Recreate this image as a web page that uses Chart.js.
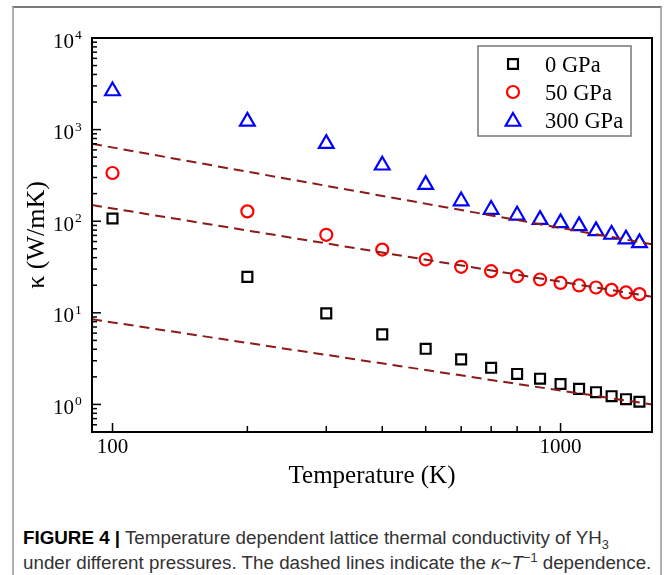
<!DOCTYPE html>
<html>
<head>
<meta charset="utf-8">
<script src="https://cdn.jsdelivr.net/npm/chart.js@4.4.1/dist/chart.umd.min.js"></script>
<style>
  html, body { margin: 0; padding: 0; background: #fff; }
  #page { position: relative; width: 668px; height: 575px; overflow: hidden; }
  #frame { position: absolute; left: 12px; top: 6px; width: 646px; height: 620px;
           border: 2px solid #b0b0b0; border-top-color: #7a7a7a; }
  #chart { position: absolute; left: 0; top: 0; }
  #caption { position: absolute; left: 23px; top: 525px; font-family: "Liberation Sans", Arial, sans-serif;
             font-size: 18.8px; line-height: 25px; color: #333; white-space: nowrap; }
  #caption b { color: #000; }
  #caption sub, #caption sup { font-size: 0.68em; line-height: 0; }
</style>
</head>
<body>
<div id="page">
  <div id="frame"></div>
  <canvas id="chart" width="668" height="500"></canvas>
  <div id="caption"><b>FIGURE 4 |</b> Temperature dependent lattice thermal conductivity of YH<sub>3</sub><br>under different pressures. The dashed lines indicate the <i>κ</i>~<i>T</i><sup>−1</sup> dependence.</div>
</div>
<script>
// datos
const temps = [100, 200, 300, 400, 500, 600, 700, 800, 900, 1000, 1100, 1200, 1300, 1400, 1500];
const kappa0 = [107, 24.7, 9.85, 5.82, 4.05, 3.10, 2.51, 2.15, 1.91, 1.67, 1.48, 1.36, 1.23, 1.14, 1.07];
const kappa50 = [336, 128, 71, 49, 38.2, 31.8, 28.5, 25.1, 23.1, 21.2, 19.9, 18.9, 17.8, 16.7, 16.0];
const kappa300 = [2640, 1230, 703, 408, 251, 166, 134, 116, 104, 95.8, 88.9, 78.4, 71.6, 63.6, 58];

// líneas discontinuas κ~T^-1 (extremos)
const fitT = [90, 1600];
const fit0 = [8.5, 1.0];
const fit50 = [150, 15];
const fit300 = [700, 56];

const seriesLabels = ['0 GPa', '50 GPa', '300 GPa'];
const xTickLabels = [100, 1000];
const yExponents = [0, 1, 2, 3, 4];

const serif = '"Liberation Serif", "Times New Roman", serif';
const dashColor = '#8b1a1a';

const toPoints = (xs, ys) => xs.map((t, i) => ({ x: t, y: ys[i] }));

const markerSets = [
  { data: kappa0, style: 'rect', radius: 7, color: '#000000' },
  { data: kappa50, style: 'circle', radius: 6, color: '#ff0000' },
  { data: kappa300, style: 'triangle', radius: 8.5, color: '#0000ff' }
];

const datasets = [];
[fit0, fit50, fit300].forEach(f => {
  datasets.push({
    data: toPoints(fitT, f),
    showLine: true,
    borderColor: dashColor,
    borderWidth: 2,
    borderDash: [10, 6],
    pointRadius: 0
  });
});
markerSets.forEach((m, i) => {
  datasets.push({
    label: seriesLabels[i],
    data: toPoints(temps, m.data),
    pointStyle: m.style,
    pointRadius: m.radius,
    pointBorderWidth: 2.2,
    borderColor: m.color,
    backgroundColor: 'rgba(0,0,0,0)',
    showLine: false
  });
});

function drawMarker(ctx, style, x, y, r) {
  ctx.beginPath();
  if (style === 'rect') {
    const s = r * Math.SQRT1_2;
    ctx.rect(x - s, y - s, 2 * s, 2 * s);
  } else if (style === 'circle') {
    ctx.arc(x, y, r, 0, Math.PI * 2);
  } else {
    ctx.moveTo(x, y - r);
    ctx.lineTo(x + r * Math.sin(Math.PI * 2 / 3), y + r / 2);
    ctx.lineTo(x - r * Math.sin(Math.PI * 2 / 3), y + r / 2);
    ctx.closePath();
  }
  ctx.stroke();
}

// ejes con marcas hacia adentro, caja, etiquetas del eje y y leyenda
const axisBox = {
  id: 'axisBox',
  afterDraw(chart) {
    const { ctx, chartArea: a, scales: { x, y } } = chart;
    ctx.save();
    ctx.strokeStyle = '#000';
    ctx.lineWidth = 1.5;
    const seg = (x1, y1, x2, y2) => { ctx.beginPath(); ctx.moveTo(x1, y1); ctx.lineTo(x2, y2); ctx.stroke(); };

    for (let e = -1; e <= 3; e++) {
      for (let m = 1; m <= 9; m++) {
        const v = m * Math.pow(10, e);
        if (v <= 0.5 || v >= 10000) continue;
        const py = y.getPixelForValue(v);
        seg(a.left, py, a.left + (m === 1 ? 9 : 5), py);
      }
    }
    for (let t = 100; t <= 1000; t += 100) {
      const px = x.getPixelForValue(t);
      seg(px, a.bottom, px, a.bottom - (t === 100 || t === 1000 ? 9 : 6));
    }

    ctx.lineWidth = 2;
    ctx.strokeRect(a.left, a.top, a.right - a.left, a.bottom - a.top);

    ctx.fillStyle = '#000';
    yExponents.forEach(e => {
      const py = y.getPixelForValue(Math.pow(10, e));
      ctx.font = '21px ' + serif;
      ctx.textAlign = 'right';
      ctx.textBaseline = 'alphabetic';
      ctx.fillText('10', a.left - 18, py + 9.5);
      ctx.font = '13.5px ' + serif;
      ctx.textAlign = 'left';
      ctx.fillText(String(e), a.left - 17, py + 1);
    });

    // leyenda
    ctx.strokeStyle = '#777';
    ctx.lineWidth = 1.5;
    ctx.strokeRect(478, 46, 153, 90);
    ctx.font = '22.5px ' + serif;
    ctx.textAlign = 'left';
    ctx.textBaseline = 'alphabetic';
    markerSets.forEach((m, i) => {
      const ry = 64 + i * 28;
      ctx.strokeStyle = m.color;
      ctx.lineWidth = 2.2;
      drawMarker(ctx, m.style, 513, ry + (m.style === 'triangle' ? 1.5 : 0), m.radius);
      ctx.fillStyle = '#000';
      ctx.fillText(seriesLabels[i], 545, ry + 7.5);
    });
    ctx.restore();
  }
};

new Chart(document.getElementById('chart').getContext('2d'), {
  type: 'scatter',
  data: { datasets: datasets },
  options: {
    responsive: false,
    animation: false,
    layout: { padding: { top: 38, right: 16, left: 0, bottom: 0 } },
    plugins: { legend: { display: false }, tooltip: { enabled: false } },
    scales: {
      x: {
        type: 'logarithmic',
        min: 90,
        max: 1600,
        afterBuildTicks: s => { s.ticks = xTickLabels.map(v => ({ value: v })); },
        afterFit: s => { s.height = 68; },
        grid: { display: false },
        border: { display: false },
        ticks: { font: { family: serif, size: 21 }, color: '#000', padding: -5, maxRotation: 0, autoSkip: false,
                 callback: v => String(v) },
        title: { display: true, text: 'Temperature (K)', color: '#000',
                 font: { family: serif, size: 25 }, padding: { top: 0, bottom: 9 } }
      },
      y: {
        type: 'logarithmic',
        min: 0.5,
        max: 10000,
        afterFit: s => { s.width = 92; },
        grid: { display: false },
        border: { display: false },
        ticks: { display: false },
        title: { display: true, text: 'κ (W/mK)', color: '#000',
                 font: { family: serif, size: 26 }, padding: { top: 22, bottom: 0 } }
      }
    }
  },
  plugins: [axisBox]
});
</script>
</body>
</html>
